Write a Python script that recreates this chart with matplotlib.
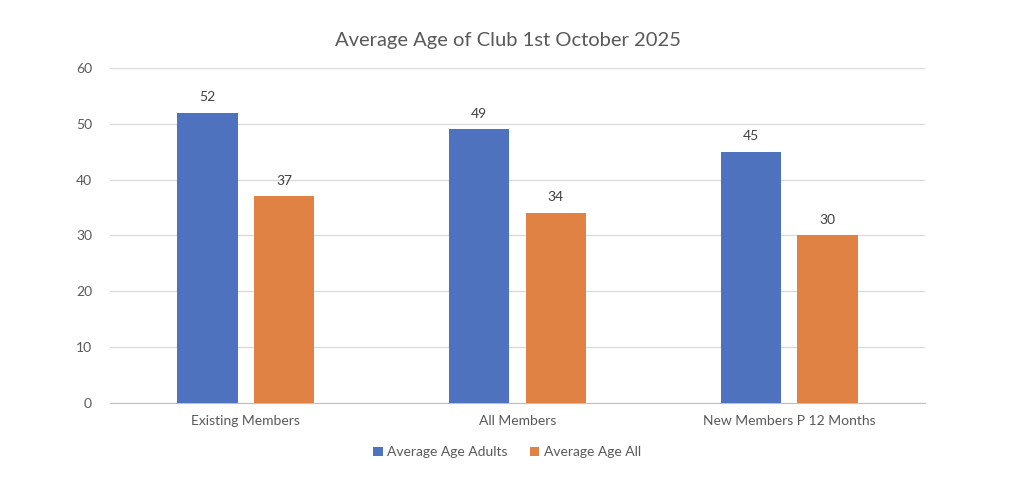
import matplotlib.pyplot as plt
import numpy as np

categories = ["Existing Members", "All Members", "New Members P 12 Months"]
avg_age_adults = [52, 49, 45]
avg_age_all = [37, 34, 30]
series_names = ["Average Age Adults", "Average Age All"]

plt.rcParams['font.family'] = ['Lato', 'DejaVu Sans']

blue = '#4E72BE'
orange = '#E08243'
text_col = '#595959'

fig = plt.figure(figsize=(10.24, 4.9), dpi=100)
ax = fig.add_axes([0.1074, 0.1776, 0.7959, 0.6836])

x = np.arange(len(categories))
w = 0.222
off = 0.141
b1 = ax.bar(x - off, avg_age_adults, w, color=blue, label=series_names[0], zorder=3)
b2 = ax.bar(x + off, avg_age_all, w, color=orange, label=series_names[1], zorder=3)

for bars in (b1, b2):
    for r in bars:
        ax.annotate(f"{r.get_height():g}", (r.get_x() + r.get_width() / 2, r.get_height()),
                    xytext=(0, 7), textcoords='offset points', ha='center', va='bottom',
                    fontsize=10, color='#404040')

ax.set_xlim(-0.5, 2.5)
ax.set_ylim(0, 60)
ax.set_yticks(range(0, 61, 10))
ax.set_xticks(x)
ax.set_xticklabels(categories)
ax.yaxis.grid(True, color='#d9d9d9', linewidth=0.9, zorder=0)
ax.set_axisbelow(True)
for s in ('top', 'right', 'left'):
    ax.spines[s].set_visible(False)
ax.spines['bottom'].set_color('#bfbfbf')
ax.tick_params(axis='both', length=0, labelsize=10, colors=text_col)
ax.tick_params(axis='y', pad=13)
ax.tick_params(axis='x', pad=9)

fig.suptitle("Average Age of Club 1st October 2025", x=0.496, y=0.935, fontsize=14.5,
             color=text_col)

fig.legend(handles=[b1, b2], loc='center', bbox_to_anchor=(0.495, 0.077), ncol=2,
           frameon=False, fontsize=10, handlelength=0.7, handleheight=0.7,
           handletextpad=0.3, columnspacing=1.6, labelcolor=text_col)

fig.savefig('out.png', dpi=100)
